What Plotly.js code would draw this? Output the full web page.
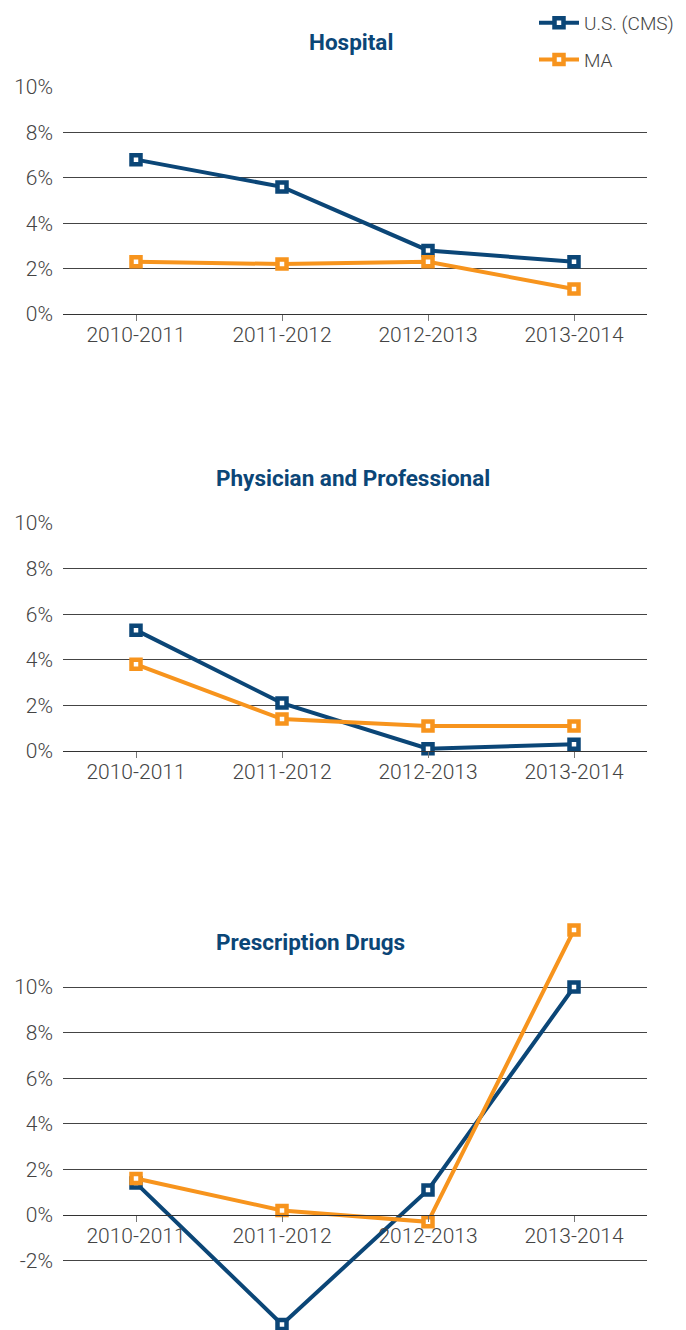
<!DOCTYPE html>
<html>
<head>
<meta charset="utf-8">
<script src="https://cdn.plot.ly/plotly-3.0.1.min.js"></script>
<style>html,body{margin:0;padding:0;background:#fff;}#chart{width:686px;height:1330px;}</style>
</head>
<body>
<div id="chart"></div>
<script>
const categories = ["2010-2011", "2011-2012", "2012-2013", "2013-2014"];
const panelTitles = ["Hospital", "Physician and Professional", "Prescription Drugs"];
const seriesNames = ["U.S. (CMS)", "MA"];

const hospitalUS = [6.8, 5.6, 2.8, 2.3];
const hospitalMA = [2.3, 2.2, 2.3, 1.1];
const physicianUS = [5.3, 2.1, 0.1, 0.3];
const physicianMA = [3.8, 1.4, 1.1, 1.1];
const drugsUS = [1.4, -4.8, 1.1, 10.0];
const drugsMA = [1.6, 0.2, -0.3, 12.5];

const yTicks12 = [0, 2, 4, 6, 8, 10];
const yTicks3 = [-2, 0, 2, 4, 6, 8, 10];
const yTickText = v => v + "%";

const BLUE = "#0b4677";
const ORANGE = "#f7941d";
const H = 1330, W = 686;

const panels = [
  {us: hospitalUS, ma: hospitalMA},
  {us: physicianUS, ma: physicianMA},
  {us: drugsUS, ma: drugsMA}
];

function mk(name, y, color, idx, show) {
  return {
    type: "scatter", mode: "lines+markers", name: name,
    x: categories, y: y,
    xaxis: idx === 0 ? "x" : "x" + (idx + 1),
    yaxis: idx === 0 ? "y" : "y" + (idx + 1),
    line: {color: color, width: 4},
    marker: {symbol: "square", size: 9, color: "#ffffff", line: {color: color, width: 4.5}},
    cliponaxis: false,
    showlegend: show,
    legendgroup: name,
    hoverinfo: "skip"
  };
}

const data = [];
panels.forEach((p, i) => {
  data.push(mk(seriesNames[0], p.us, BLUE, i, i === 0));
  data.push(mk(seriesNames[1], p.ma, ORANGE, i, i === 0));
});

// pixel layout
const xDom = [63 / W, 647 / W];
function dom(topPx, botPx) { return [1 - botPx / H, 1 - topPx / H]; }
const d1 = dom(87, 314);
const d2 = dom(523, 751);
const pxPer = (1215 - 987) / 10;
const r3 = [-5, 13];
const d3 = dom(1215 - r3[1] * pxPer, 1215 - r3[0] * pxPer);
const pos3 = d3[0] + (0 - r3[0]) / (r3[1] - r3[0]) * (d3[1] - d3[0]);

const FAM = "Roboto, 'Liberation Sans', sans-serif";
const xFont = {family: FAM, size: 21, color: "#444", weight: 300};
const yFont = {family: FAM, size: 21, color: "#444", weight: 300};

function xax(anchor, extra) {
  return Object.assign({
    domain: xDom, type: "category", range: [-0.5, 3.5], anchor: anchor,
    showgrid: false, zeroline: false, showline: true, linecolor: "#333", linewidth: 1,
    ticks: "outside", ticklen: 6, tickcolor: "#777", tickwidth: 1,
    ticklabelstandoff: -4,
    tickfont: xFont, fixedrange: true
  }, extra || {});
}
function yax(domain, range, ticks, anchor) {
  return {
    domain: domain, range: range, anchor: anchor,
    tickmode: "array", tickvals: ticks, ticktext: ticks.map(yTickText),
    showgrid: true, gridcolor: "#444", gridwidth: 1, zeroline: false,
    showline: false, ticks: "", tickfont: yFont, ticklabelstandoff: 9,
    fixedrange: true
  };
}

const titleFont = {family: FAM, size: 22.5, color: BLUE, weight: "bold"};
const titlePos = [{x: 351, y: 42}, {x: 353, y: 478}, {x: 310, y: 942}];

const layout = {
  width: W, height: H,
  margin: {l: 0, r: 0, t: 0, b: 0},
  paper_bgcolor: "#fff", plot_bgcolor: "#fff",
  showlegend: true,
  legend: {
    x: 534 / W, y: 1 - 4 / H, xanchor: "left", yanchor: "top",
    font: {family: FAM, size: 19, color: "#444", weight: 300},
    itemwidth: 40,
    tracegroupgap: 9, traceorder: "grouped", bgcolor: "rgba(0,0,0,0)"
  },
  xaxis: xax("y"),
  yaxis: yax(d1, [0, 10], yTicks12, "x"),
  xaxis2: xax("y2"),
  yaxis2: yax(d2, [0, 10], yTicks12, "x2"),
  xaxis3: xax("free", {position: pos3}),
  yaxis3: yax(d3, r3, yTicks3, "x3"),
  annotations: panelTitles.map((t, i) => ({
    text: "<b>" + t + "</b>", xref: "paper", yref: "paper",
    x: titlePos[i].x / W, y: 1 - titlePos[i].y / H,
    xanchor: "center", yanchor: "middle", showarrow: false,
    font: titleFont
  }))
};

Plotly.newPlot("chart", data, layout, {displayModeBar: false, staticPlot: true});
</script>
</body>
</html>
